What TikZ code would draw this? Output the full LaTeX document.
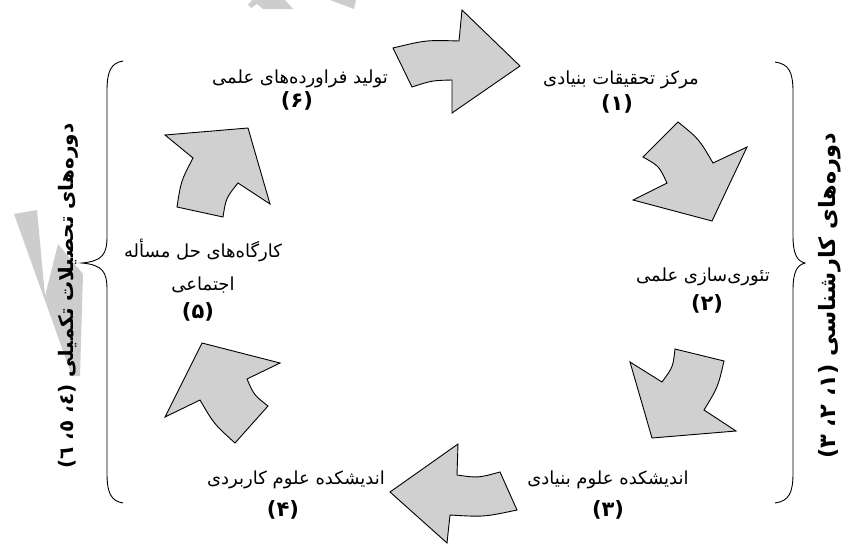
\documentclass[tikz,border=0pt]{standalone}
\usepackage{fontspec}
\newfontfamily\farsi[Script=Arabic]{DejaVu Sans}
\TeXXeTstate=1
\newcommand{\pers}[1]{{\farsi\beginR #1\endR}}
\definecolor{arrgray}{RGB}{208,208,208}
\definecolor{wmgray}{RGB}{205,205,205}
\begin{document}
\begin{tikzpicture}[x=1pt,y=-1pt,
    blockarrow/.style={fill=arrgray,draw=black,line width=0.9pt,line join=miter},
    bracepath/.style={draw=black,line width=0.9pt},
    lbl/.style={inner sep=0pt,font=\fontsize{18}{33}\selectfont,align=center},
    num/.style={inner sep=0pt,font=\fontsize{21}{24}\selectfont\bfseries},
    side/.style={inner sep=0pt,font=\fontsize{22.5}{26}\selectfont\bfseries,rotate=90}]
  \useasboundingbox (0,0) rectangle (851,544);
  % watermark
  \fill[wmgray] (14,214)--(37,210)--(45,296)--(58,244)--(83,274)--(80,376)--(72,376)--cycle;
  \fill[wmgray] (248,5)--(252,0)--(285,0)--(293,9)--(263,9)--(257,4)--(251,8)--cycle;
  \fill[wmgray] (330,0)--(356,0)--(354,9)--cycle;
  % arrows 1..6
  \filldraw[blockarrow] (393,48) .. controls (426,40) .. (459,41)--(462,10)--(520,66)--(452,113)--(452,80) .. controls (432,80.5) .. (412,87)--cycle;
  \filldraw[blockarrow] (678,122) .. controls (699,139) .. (713,163)--(747,147)--(712,221)--(633,200)--(667,183) .. controls (659,166) .. (643,157)--cycle;
  \filldraw[blockarrow] (675,349)--(724,361) .. controls (718,387) .. (704,410)--(736,431)--(652,438)--(630,362)--(662,382) .. controls (673,367) .. (675,349)--cycle;
  \filldraw[blockarrow] (500,472) .. controls (478,478) .. (457,475)--(458,444)--(390,492)--(447,543)--(450,515) .. controls (484,517) .. (517,510)--cycle;
  \filldraw[blockarrow] (165,417)--(202,343)--(280,363)--(247,379) .. controls (254,395) .. (268,406)--(235,443) .. controls (214,424) .. (200,400)--cycle;
  \filldraw[blockarrow] (165,135)--(248,128)--(270,204)--(238,183) .. controls (226,198) .. (223,217)--(177,207) .. controls (181,181) .. (193,158)--cycle;
  % braces
  \draw[bracepath] (775,62) .. controls (789,64) and (793,72) .. (793,92)--(793,236) .. controls (793,254) and (797,261) .. (805,263) .. controls (797,265) and (793,272) .. (793,290)--(793,473) .. controls (793,493) and (789,501) .. (775,503);
  \draw[bracepath] (123,61) .. controls (111,63) and (107,71) .. (107,91)--(107,236) .. controls (107,254) and (103,261) .. (82,263) .. controls (103,265) and (107,272) .. (107,290)--(107,473) .. controls (107,493) and (111,501) .. (123,503);
  % labels
  \node[lbl] (t1) at (621,80) {\pers{مرکز تحقیقات بنیادی}};
  \node[num] (n1) at (617,104) {\pers{(۱)}};
  \node[lbl] (t2) at (703,277) {\pers{تئوری^^^^200cسازی علمی}};
  \node[num] (n2) at (707,304) {\pers{(۲)}};
  \node[lbl] (t3) at (608,480) {\pers{اندیشکده علوم بنیادی}};
  \node[num] (n3) at (608,510) {\pers{(۳)}};
  \node[lbl] (t4) at (296,480) {\pers{اندیشکده علوم کاربردی}};
  \node[num] (n4) at (283,510) {\pers{(۴)}};
  \node[lbl] (t5) at (203,266) {\pers{کارگاه^^^^200cهای حل مسأله}\\\pers{اجتماعی}};
  \node[num] (n5) at (198,312) {\pers{(۵)}};
  \node[lbl] (t6) at (300,79) {\pers{تولید فراورده^^^^200cهای علمی}};
  \node[num] (n6) at (297,101) {\pers{(۶)}};
  \node[side] (bsc) at (830,296) {\pers{دوره^^^^200cهای کارشناسی (۱، ۲، ۳)}};
  \node[side,font=\fontsize{20}{24}\selectfont\bfseries] (grad) at (68,296) {\pers{دوره^^^^200cهای تحصیلات تکمیلی (٤، ٥، ٦)}};
\end{tikzpicture}
\end{document}
